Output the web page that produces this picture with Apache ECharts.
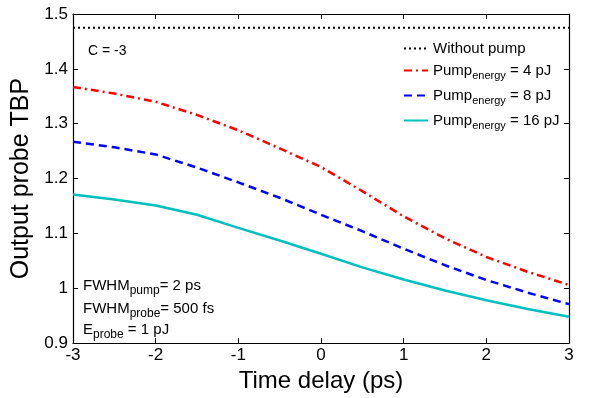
<!DOCTYPE html>
<html>
<head>
<meta charset="utf-8">
<script src="https://cdn.jsdelivr.net/npm/echarts@6/dist/echarts.min.js"></script>
<style>html,body{margin:0;padding:0;background:#fff}#c{width:589px;height:398px}</style>
</head>
<body>
<div id="c"></div>
<script>
var delays = [-3, -2.5, -2, -1.5, -1, -0.5, 0, 0.5, 1, 1.5, 2, 2.5, 3];
var withoutPump = [1.475, 1.475, 1.475, 1.475, 1.475, 1.475, 1.475, 1.475, 1.475, 1.475, 1.475, 1.475, 1.475];
var pump4 = [1.367, 1.355, 1.340, 1.316, 1.288, 1.255, 1.221, 1.177, 1.131, 1.091, 1.057, 1.030, 1.006];
var pump8 = [1.267, 1.257, 1.244, 1.220, 1.193, 1.165, 1.134, 1.104, 1.072, 1.042, 1.015, 0.992, 0.971];
var pump16 = [1.171, 1.162, 1.151, 1.134, 1.110, 1.087, 1.063, 1.038, 1.016, 0.996, 0.978, 0.962, 0.948];
var xTicks = [-3, -2, -1, 0, 1, 2, 3];
var yTicks = [0.9, 1, 1.1, 1.2, 1.3, 1.4, 1.5];

function pairs(ys){ return delays.map(function(x,i){ return [x, ys[i]]; }); }

var FONT = 'Liberation Sans, Arial, Helvetica, sans-serif';
var chart = echarts.init(document.getElementById('c'), null, {renderer:'canvas'});
function axisCommon(){
  return {
    axisLine:{show:true, onZero:false, lineStyle:{color:'#000', width:1.2}},
    axisTick:{show:true, inside:true, length:5, lineStyle:{color:'#000'}},
    splitLine:{show:false}
  };
}
var legRich = {
  a:{fontFamily:FONT, fontSize:15, color:'#000'},
  s:{fontFamily:FONT, fontSize:11, color:'#000', padding:[10,0,0,0]}
};
var subRich = {a:{fontFamily:FONT,fontSize:15,fill:'#000'}, s:{fontFamily:FONT,fontSize:12,fill:'#000',padding:[10,0,0,0]}};
var option = {
  animation:false,
  backgroundColor:'#fff',
  grid:{left:73, right:20, top:14, bottom:53, containLabel:false},
  xAxis:[
    Object.assign({type:'value', min:-3, max:3, interval:1, position:'bottom',
      name:'Time delay (ps)', nameLocation:'middle', nameGap:25,
      nameTextStyle:{fontFamily:FONT, fontSize:24, color:'#000'},
      axisLabel:{fontFamily:FONT, fontSize:17, color:'#000', margin:4}}, axisCommon()),
    Object.assign({type:'value', min:-3, max:3, interval:1, position:'top', axisLabel:{show:false}}, axisCommon())
  ],
  yAxis:[
    Object.assign({type:'value', min:0.9, max:1.5, interval:0.1, position:'left',
      name:'Output probe TBP', nameLocation:'middle', nameGap:35,
      nameTextStyle:{fontFamily:FONT, fontSize:25, color:'#000'},
      axisLabel:{fontFamily:FONT, fontSize:17, color:'#000', margin:5,
        formatter:function(v){ return String(Math.round(v*10)/10); }}}, axisCommon()),
    Object.assign({type:'value', min:0.9, max:1.5, interval:0.1, position:'right', axisLabel:{show:false}}, axisCommon())
  ],
  legend:{
    orient:'vertical', left:403, top:41, padding:0, itemWidth:24, itemHeight:10, itemGap:7,
    selectedMode:false,
    itemStyle:{color:'transparent', borderWidth:0, opacity:0},
    textStyle:{fontFamily:FONT, fontSize:15, color:'#000', rich:legRich},
    data:['Without pump','p4','p8','p16'],
    formatter:function(n){
      if(n==='Without pump') return '{a|Without pump}';
      var e = n==='p4'?'4':(n==='p8'?'8':'16');
      return '{a|Pump}{s|energy}{a| = '+e+' pJ}';
    }
  },
  graphic:[
    {type:'text', left:88, top:44, style:{text:'C = -3', font:'14px '+FONT, fill:'#000'}},
    {type:'text', left:83, top:278, style:{text:'{a|FWHM}{s|pump}{a|= 2 ps}', rich:subRich}},
    {type:'text', left:83, top:301, style:{text:'{a|FWHM}{s|probe}{a|= 500 fs}', rich:subRich}},
    {type:'text', left:83, top:322, style:{text:'{a|E}{s|probe}{a| = 1 pJ}', rich:subRich}}
  ],
  series:[
    {name:'Without pump', type:'line', data:pairs(withoutPump), showSymbol:false, symbol:'none',
      lineStyle:{color:'#000', width:2, type:[2,3]}, itemStyle:{color:'#000'}},
    {name:'p4', type:'line', data:pairs(pump4), showSymbol:false, symbol:'none',
      lineStyle:{color:'#ff0000', width:2.5, type:[8,4,2,4]}, itemStyle:{color:'#ff0000'}},
    {name:'p8', type:'line', data:pairs(pump8), showSymbol:false, symbol:'none',
      lineStyle:{color:'#0000ff', width:2.5, type:[8,5]}, itemStyle:{color:'#0000ff'}},
    {name:'p16', type:'line', data:pairs(pump16), showSymbol:false, symbol:'none',
      lineStyle:{color:'#00bfbf', width:2.5}, itemStyle:{color:'#00bfbf'}}
  ]
};
chart.setOption(option);
</script>
</body>
</html>
